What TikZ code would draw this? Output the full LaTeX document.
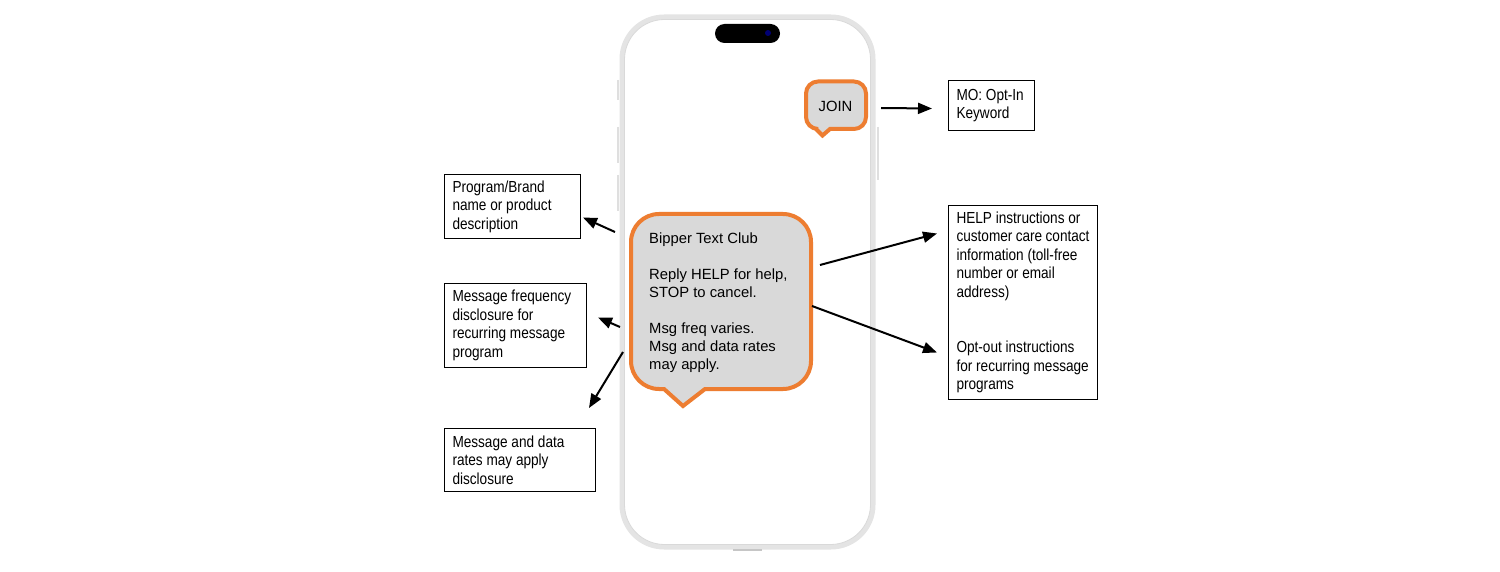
\documentclass[tikz,border=0pt]{standalone}
\usepackage{fontspec}
\setmainfont{Liberation Sans}
\newfontfamily\narrowfont[FakeStretch=0.85]{Liberation Sans}
\newcommand{\mynarrowbox}{\narrowfont\fontsize{16}{18.5}\selectfont}
\newcommand{\mysetspace}{\spaceskip=3.8pt plus 1pt minus 0.5pt\relax\hyphenpenalty=10000\relax}
\usetikzlibrary{arrows.meta,calc}
\definecolor{bborange}{HTML}{ED7D31}
\definecolor{bbgray}{HTML}{D9D9D9}
\definecolor{framegray}{HTML}{E4E4E4}
\begin{document}
\begin{tikzpicture}[x=1pt,y=1pt,
  infobox/.style={draw=black, line width=1pt, anchor=north west, inner xsep=8pt, inner ysep=0pt, align=left, font=\mynarrowbox, execute at begin node=\mysetspace},
  arr/.style={line width=2pt, -{Triangle[length=14pt,width=11pt]}},
  bubble/.style={draw=bborange, fill=bbgray, line width=4pt, line join=miter},
  msgtext/.style={font=\fontsize{14.8}{18}\selectfont, align=left, inner sep=0pt},
  framebtn/.style={line width=2pt, draw=gray!25}
]
\useasboundingbox (0,0) rectangle (1500,-572);
% phone
\draw[framebtn] (617.5,-80) -- (617.5,-100);
\draw[framebtn] (617.5,-127) -- (617.5,-163);
\draw[framebtn] (617.5,-175) -- (617.5,-211);
\draw[framebtn] (878,-127) -- (878,-180);
\draw[line width=5pt, framegray, fill=white, rounded corners=42pt] (622,-17) rectangle (873,-547);
\draw[line width=0.8pt, gray!30, rounded corners=40pt] (624.5,-19.5) rectangle (870.5,-544.5);
\draw[line width=2pt, gray!45] (733,-550) -- (762,-550);
\fill[black, rounded corners=9.5pt] (715,-24) rectangle (780,-43);
\fill[blue!45!black] (768,-33) circle[radius=3pt];
% JOIN bubble
\draw[bubble] (818,-81.5) -- (854,-81.5) arc[start angle=90,end angle=0,radius=12pt]
  -- (866,-117) arc[start angle=0,end angle=-90,radius=12pt]
  -- (830,-129) -- (822.5,-135.5) -- (816,-129)
  -- (818,-129) arc[start angle=270,end angle=180,radius=12pt]
  -- (806,-93.5) arc[start angle=180,end angle=90,radius=12pt] -- cycle;
\node[msgtext] (join) at (835.5,-106) {JOIN};
% main bubble
\draw[bubble] (659,-214) -- (783,-214) arc[start angle=90,end angle=0,radius=28pt]
  -- (811,-361) arc[start angle=0,end angle=-90,radius=28pt]
  -- (705,-389) -- (683,-406) -- (664,-389)
  -- (659,-389) arc[start angle=270,end angle=180,radius=28pt]
  -- (631,-242) arc[start angle=180,end angle=90,radius=28pt] -- cycle;
\node[msgtext, anchor=north west] (msg) at (649,-232.5) {Bipper Text Club\\[18pt]Reply HELP for help,\\STOP to cancel.\\[18pt]Msg freq varies.\\Msg and data rates\\may apply.};
% boxes
\node[infobox, text width=120pt, minimum height=64pt] (pb) at (444,-174) {Program/Brand\\name or product\\description};
\node[infobox, text width=126pt, minimum height=84pt] (fq) at (444,-283) {Message frequency\\disclosure for\\recurring message\\program};
\node[infobox, text width=135pt, minimum height=63pt] (dr) at (444,-428) {Message and data\\rates may apply\\disclosure};
\node[infobox, text width=70pt, minimum height=50pt] (mo) at (948,-80) {MO: Opt-In\\Keyword};
\node[infobox, text width=133pt, minimum height=194pt] (hp) at (948,-205) {HELP instructions or\\customer care contact\\information (toll-free\\number or email\\address)\\[37pt]Opt-out instructions\\for recurring message\\programs};
% arrow starts
\coordinate (s1) at (615,-232);
\coordinate (s2) at (620,-327);
\coordinate (s3) at (623,-352);
\coordinate (s4) at (881,-108);
\coordinate (s5) at (820,-265);
\coordinate (s6) at (812,-306);
\draw[arr] (s1) -- ([shift={(2,-11)}]pb.east);
\draw[arr] (s2) -- ([shift={(11,8)}]fq.east);
\draw[arr] (s3) -- ([shift={(-7,20)}]dr.north east);
\draw[arr] (s4) -- ([shift={(-16,-3)}]mo.west);
\draw[arr] (s5) -- ([shift={(-11,69)}]hp.west);
\draw[arr] (s6) -- ([shift={(-11,-50)}]hp.west);
\end{tikzpicture}
\end{document}
